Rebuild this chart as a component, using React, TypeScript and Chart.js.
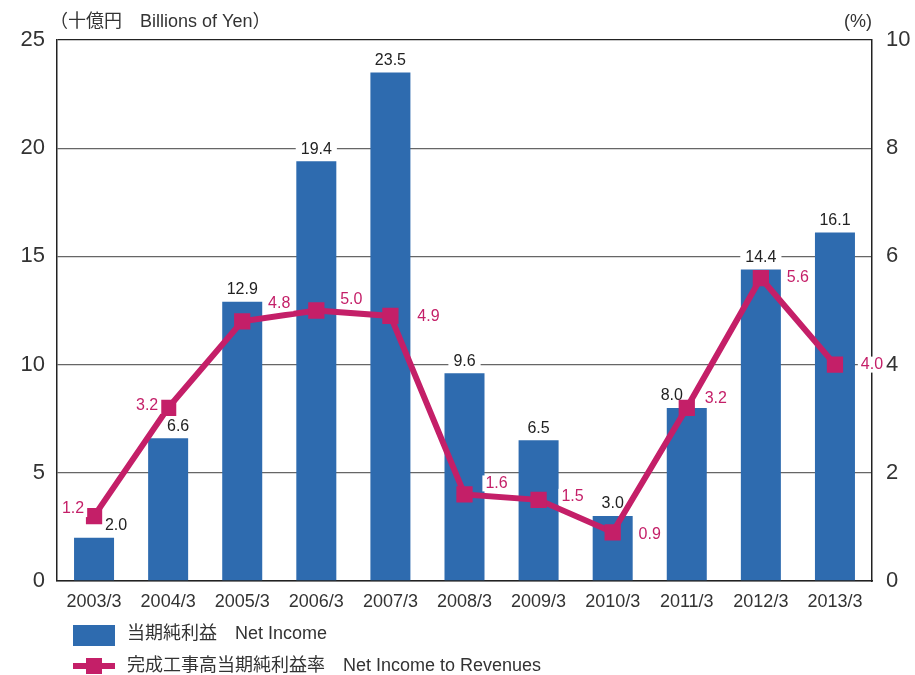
import React, { useEffect, useRef } from "react";
import Chart from "chart.js/auto";

const categories = ["2003/3", "2004/3", "2005/3", "2006/3", "2007/3", "2008/3", "2009/3", "2010/3", "2011/3", "2012/3", "2013/3"];
const netIncome = [2.0, 6.6, 12.9, 19.4, 23.5, 9.6, 6.5, 3.0, 8.0, 14.4, 16.1];
const netIncomeRatio = [1.2, 3.2, 4.8, 5.0, 4.9, 1.6, 1.5, 0.9, 3.2, 5.6, 4.0];
const leftTitle = "（十億円　Billions of Yen）";
const rightTitle = "(%)";
const barLegend = "当期純利益　Net Income";
const lineLegend = "完成工事高当期純利益率　Net Income to Revenues";

// label placement offsets (style only)
const barLabelOffsets: number[] = [22, 10, 0, 0, 0, 0, 0, 0, -15, 0, 0];
const lineLabelOffsets: [number, number][] = [
  [-21, -7], [-21, -2], [37, -18], [35, -11], [38, 1], [32, -11], [34, -3], [37, 2], [29, -9], [37, 0], [37, 0],
];

const BLUE = "#2E6BAF";
const MAGENTA = "#C41F68";
const TEXT = "#333333";
const FONT = '"Liberation Sans", "Noto Sans CJK JP", sans-serif';
const NARROW = '"Liberation Sans Narrow", "Liberation Sans", sans-serif';

export default function App() {
  const ref = useRef<HTMLCanvasElement | null>(null);
  useEffect(() => {
    if (!ref.current) return;
    const labelsPlugin = {
      id: "customLabels",
      afterDatasetDraw(chart: any, args: any) {
        if (args.index !== 0) return;
        const ctx = chart.ctx;
        ctx.save();
        ctx.font = `16px ${NARROW}`;
        ctx.textAlign = "center";
        ctx.textBaseline = "middle";
        const barMeta = chart.getDatasetMeta(0);
        barMeta.data.forEach((el: any, i: number) => {
          const t = netIncome[i].toFixed(1);
          const w = ctx.measureText(t).width;
          const x = el.x + barLabelOffsets[i];
          const y = el.y - 12;
          ctx.fillStyle = "#ffffff";
          ctx.fillRect(x - w / 2 - 5, y - 8, w + 10, 16);
          ctx.fillStyle = "#222222";
          ctx.fillText(t, x, y);
        });
        ctx.restore();
      },
      afterDatasetsDraw(chart: any) {
        const ctx = chart.ctx;
        ctx.save();
        ctx.font = `16px ${NARROW}`;
        ctx.textAlign = "center";
        ctx.textBaseline = "middle";
        const lineMeta = chart.getDatasetMeta(1);
        lineMeta.data.forEach((el: any, i: number) => {
          const t = netIncomeRatio[i].toFixed(1);
          const w = ctx.measureText(t).width;
          const [dx, dy] = lineLabelOffsets[i];
          const x = el.x + dx;
          const y = el.y + dy;
          ctx.fillStyle = "#ffffff";
          ctx.fillRect(x - w / 2 - 3, y - 8, w + 6, 16);
          ctx.fillStyle = MAGENTA;
          ctx.fillText(t, x, y);
        });
        ctx.restore();
      },
      afterDraw(chart: any) {
        const ctx = chart.ctx;
        ctx.save();
        ctx.textBaseline = "middle";
        ctx.fillStyle = TEXT;
        ctx.font = `18px ${FONT}`;
        ctx.textAlign = "left";
        ctx.fillText(leftTitle, 50, 22);
        ctx.textAlign = "right";
        ctx.fillText(rightTitle, 872, 22);
        // legend
        ctx.textAlign = "left";
        ctx.fillStyle = BLUE;
        ctx.fillRect(73, 625, 42, 21);
        ctx.fillStyle = TEXT;
        ctx.fillText(barLegend, 127, 634);
        ctx.strokeStyle = MAGENTA;
        ctx.lineWidth = 6;
        ctx.beginPath();
        ctx.moveTo(73, 666);
        ctx.lineTo(115, 666);
        ctx.stroke();
        ctx.fillStyle = MAGENTA;
        ctx.fillRect(86, 658, 16, 16);
        ctx.fillStyle = TEXT;
        ctx.fillText(lineLegend, 127, 666);
        ctx.restore();
      },
    };

    const chart = new Chart(ref.current, {
      type: "bar",
      data: {
        labels: categories,
        datasets: [
          {
            type: "bar",
            data: netIncome,
            backgroundColor: BLUE,
            categoryPercentage: 1,
            barPercentage: 0.54,
            yAxisID: "y",
            order: 1,
          },
          {
            type: "line",
            data: netIncomeRatio,
            borderColor: MAGENTA,
            borderWidth: 6,
            pointStyle: "rect",
            pointRadius: 11.5,
            pointBorderWidth: 0,
            pointBackgroundColor: MAGENTA,
            yAxisID: "y1",
            order: 0,
          } as any,
        ],
      },
      options: {
        responsive: false,
        animation: false,
        layout: { padding: { top: 40, left: 0, right: 0, bottom: 0 } },
        plugins: { legend: { display: false }, tooltip: { enabled: false } },
        scales: {
          x: {
            grid: { display: false, drawTicks: false },
            border: { display: true, color: "#222", width: 1.5 },
            ticks: { font: { size: 18, family: FONT }, color: TEXT, padding: 10, maxRotation: 0, autoSkip: false },
            afterFit: (s: any) => { s.height = 94; },
          },
          y: {
            position: "left",
            min: 0,
            max: 25,
            ticks: { stepSize: 5, font: { size: 22, family: FONT }, color: TEXT, padding: 12 },
            grid: {
              color: (c: any) => (c.tick && c.tick.value === 25 ? "#222" : "#666"),
              lineWidth: 1.3,
              drawTicks: false,
            },
            border: { color: "#222", width: 1.5 },
            afterFit: (s: any) => { s.width = 57; },
          },
          y1: {
            position: "right",
            min: 0,
            max: 10,
            ticks: { stepSize: 2, font: { size: 22, family: FONT }, color: TEXT, padding: 14 },
            grid: { display: false, drawTicks: false },
            border: { color: "#222", width: 1.5 },
            afterFit: (s: any) => { s.width = 43; },
          },
        },
      } as any,
      plugins: [labelsPlugin],
    });
    return () => chart.destroy();
  }, []);
  return (
    <div style={{ position: "fixed", left: 0, top: 0, width: 915, height: 675, background: "#fff" }}>
      <canvas ref={ref} width={915} height={675} />
    </div>
  );
}
